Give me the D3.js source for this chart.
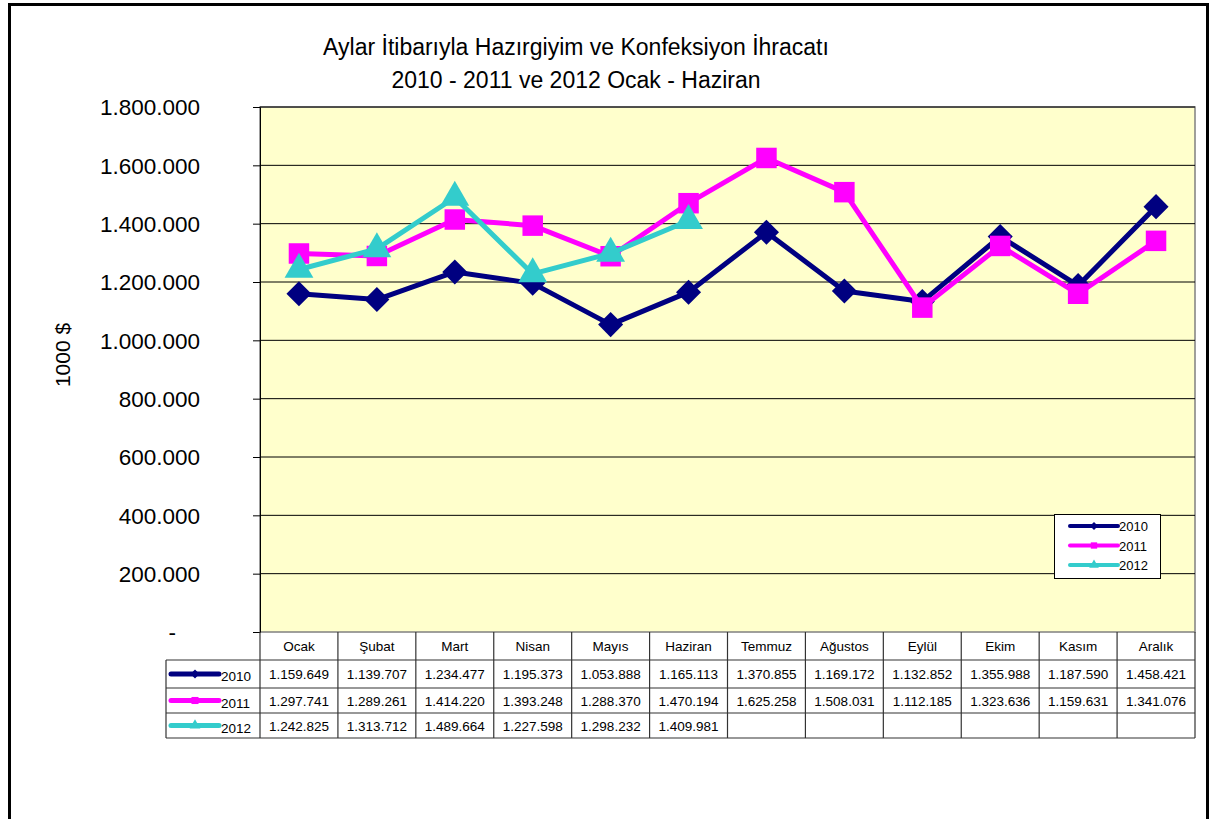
<!DOCTYPE html>
<html>
<head>
<meta charset="utf-8">
<script src="https://cdn.jsdelivr.net/npm/d3@7"></script>
<style>
  body { margin: 0; background: #fff; }
  svg text { font-family: "Liberation Sans", Arial, sans-serif; }
</style>
</head>
<body>
<svg id="chart" width="1212" height="819"></svg>
<script>
// veriler
const months = ["Ocak", "Şubat", "Mart", "Nisan", "Mayıs", "Haziran", "Temmuz", "Ağustos", "Eylül", "Ekim", "Kasım", "Aralık"];
const years = ["2010", "2011", "2012"];
const values2010 = [1159649, 1139707, 1234477, 1195373, 1053888, 1165113, 1370855, 1169172, 1132852, 1355988, 1187590, 1458421];
const values2011 = [1297741, 1289261, 1414220, 1393248, 1288370, 1470194, 1625258, 1508031, 1112185, 1323636, 1159631, 1341076];
const values2012 = [1242825, 1313712, 1489664, 1227598, 1298232, 1409981];
const yTicks = [0, 200000, 400000, 600000, 800000, 1000000, 1200000, 1400000, 1600000, 1800000];
const titleLines = ["Aylar İtibarıyla Hazırgiyim ve Konfeksiyon İhracatı", "2010 - 2011 ve 2012 Ocak - Haziran"];

const seriesList = [
  { name: years[0], values: values2010, color: "#000080", shape: "diamond" },
  { name: years[1], values: values2011, color: "#FF00FF", shape: "square" },
  { name: years[2], values: values2012, color: "#33CCCC", shape: "triangle" }
];

const svg = d3.select("#chart");
const trFormat = d3.formatLocale({ decimal: ",", thousands: ".", grouping: [3], currency: ["", ""] }).format(",.0f");

// dış çerçeve
svg.append("rect")
  .attr("x", 9.5).attr("y", 4.5)
  .attr("width", 1198).attr("height", 900)
  .style("fill", "none").style("stroke", "#000").style("stroke-width", 3);

const plot = { left: 260, right: 1195, top: 107, bottom: 632 };

const xScale = d3.scaleBand().domain(months).range([plot.left, plot.right]).padding(0);
const yScale = d3.scaleLinear().domain([0, 1800000]).range([plot.bottom, plot.top]);
const cx = (m) => xScale(m) + xScale.bandwidth() / 2;

// başlık
svg.selectAll(".title")
  .data(titleLines)
  .enter()
  .append("text")
  .attr("x", 576)
  .attr("y", (d, i) => 55 + i * 33)
  .attr("text-anchor", "middle")
  .style("font-size", "23px")
  .text(d => d);

// çizim alanı
svg.append("rect")
  .attr("x", plot.left).attr("y", plot.top)
  .attr("width", plot.right - plot.left).attr("height", plot.bottom - plot.top)
  .style("fill", "#FFFFCC").style("stroke", "#808080").style("stroke-width", 1.5);

// ızgara çizgileri
svg.selectAll(".grid")
  .data(yTicks.filter(d => d > 0))
  .enter()
  .append("line")
  .attr("x1", plot.left).attr("x2", plot.right)
  .attr("y1", d => yScale(d)).attr("y2", d => yScale(d))
  .style("stroke", "#000").style("stroke-width", 1);

// y ekseni
const yAxis = d3.axisLeft(yScale)
  .tickValues(yTicks)
  .tickSize(7)
  .tickFormat(d => d === 0 ? "-" : trFormat(d));
const yg = svg.append("g")
  .attr("transform", `translate(${plot.left},0)`)
  .call(yAxis);
yg.select(".domain").style("stroke", "#000");
yg.selectAll(".tick line").style("stroke", "#000");
yg.selectAll(".tick text")
  .attr("x", -60)
  .style("font-size", "22.5px")
  .style("font-family", "Liberation Sans, Arial, sans-serif")
  .style("fill", "#000")
  .attr("dy", "0.35em");
yg.selectAll(".tick text").filter(d => d === 0).attr("x", -84);

// y ekseni başlığı
svg.append("text")
  .attr("transform", "translate(70,355) rotate(-90)")
  .attr("text-anchor", "middle")
  .style("font-size", "21px")
  .text("1000 $");

// işaretçi yolu
function markerPath(shape, size) {
  if (shape === "diamond") return d3.symbol(d3.symbolDiamond2 || d3.symbolDiamond, size)();
  if (shape === "square") return d3.symbol(d3.symbolSquare, size)();
  return d3.symbol(d3.symbolTriangle, size)();
}
const markerSize = { diamond: 400, square: 420, triangle: 360 };

// seriler
const line = d3.line()
  .x((d, i) => cx(months[i]))
  .y(d => yScale(d));

seriesList.forEach(s => {
  svg.append("path")
    .datum(s.values)
    .attr("d", line)
    .style("fill", "none")
    .style("stroke", s.color)
    .style("stroke-width", 5)
    .style("stroke-linejoin", "round");

  svg.selectAll(".m" + s.name)
    .data(s.values)
    .enter()
    .append("path")
    .attr("class", "m" + s.name)
    .attr("d", markerPath(s.shape, markerSize[s.shape]))
    .attr("transform", (d, i) => `translate(${cx(months[i])},${yScale(d)})`)
    .style("fill", s.color);
});

// lejant
const legend = svg.append("g");
legend.append("rect")
  .attr("x", 1054.5).attr("y", 514.5)
  .attr("width", 106).attr("height", 64)
  .style("fill", "#fff").style("stroke", "#000").style("stroke-width", 1);

function drawSample(g, s, x1, x2, y, w, ms) {
  g.append("line")
    .attr("x1", x1).attr("x2", x2).attr("y1", y).attr("y2", y)
    .style("stroke", s.color).style("stroke-width", w).style("stroke-linecap", "round");
  g.append("path")
    .attr("d", markerPath(s.shape, ms))
    .attr("transform", `translate(${(x1 + x2) / 2},${y})`)
    .style("fill", s.color);
}

seriesList.forEach((s, i) => {
  const y = 526 + i * 19.5;
  drawSample(legend, s, 1070, 1118, y, 4, 40);
  legend.append("text")
    .attr("x", 1119).attr("y", y + 5)
    .style("font-size", "13px")
    .text(s.name);
});

// veri tablosu
const table = svg.append("g");
const rowTop = [632, 660, 688, 713, 738];
const tableLeft = 166;

// satır çizgileri
table.selectAll(".hline")
  .data(rowTop.slice(1))
  .enter()
  .append("line")
  .attr("x1", tableLeft).attr("x2", plot.right)
  .attr("y1", d => d).attr("y2", d => d)
  .style("stroke", "#333").style("stroke-width", 1.2);

// sütun çizgileri
const colEdges = months.map(m => xScale(m)).concat([plot.right]);
table.selectAll(".vline")
  .data(colEdges)
  .enter()
  .append("line")
  .attr("x1", d => d).attr("x2", d => d)
  .attr("y1", plot.bottom).attr("y2", rowTop[4])
  .style("stroke", "#333").style("stroke-width", 1.2);

table.append("line")
  .attr("x1", tableLeft).attr("x2", tableLeft)
  .attr("y1", rowTop[1]).attr("y2", rowTop[4])
  .style("stroke", "#333").style("stroke-width", 1.2);

// başlık satırı
table.selectAll(".mlabel")
  .data(months)
  .enter()
  .append("text")
  .attr("x", d => cx(d))
  .attr("y", 651)
  .attr("text-anchor", "middle")
  .style("font-size", "13.5px")
  .text(d => d);

// değer satırları
seriesList.forEach((s, r) => {
  const yMid = (rowTop[r + 1] + rowTop[r + 2]) / 2;
  drawSample(table, s, 171, 219, yMid, 5, 50);
  table.append("text")
    .attr("x", 221).attr("y", yMid + 7)
    .style("font-size", "13.5px")
    .text(s.name);
  table.selectAll(".v" + s.name)
    .data(s.values)
    .enter()
    .append("text")
    .attr("x", (d, i) => cx(months[i]))
    .attr("y", yMid + 5)
    .attr("text-anchor", "middle")
    .style("font-size", "13.5px")
    .text(d => trFormat(d));
});
</script>
</body>
</html>
